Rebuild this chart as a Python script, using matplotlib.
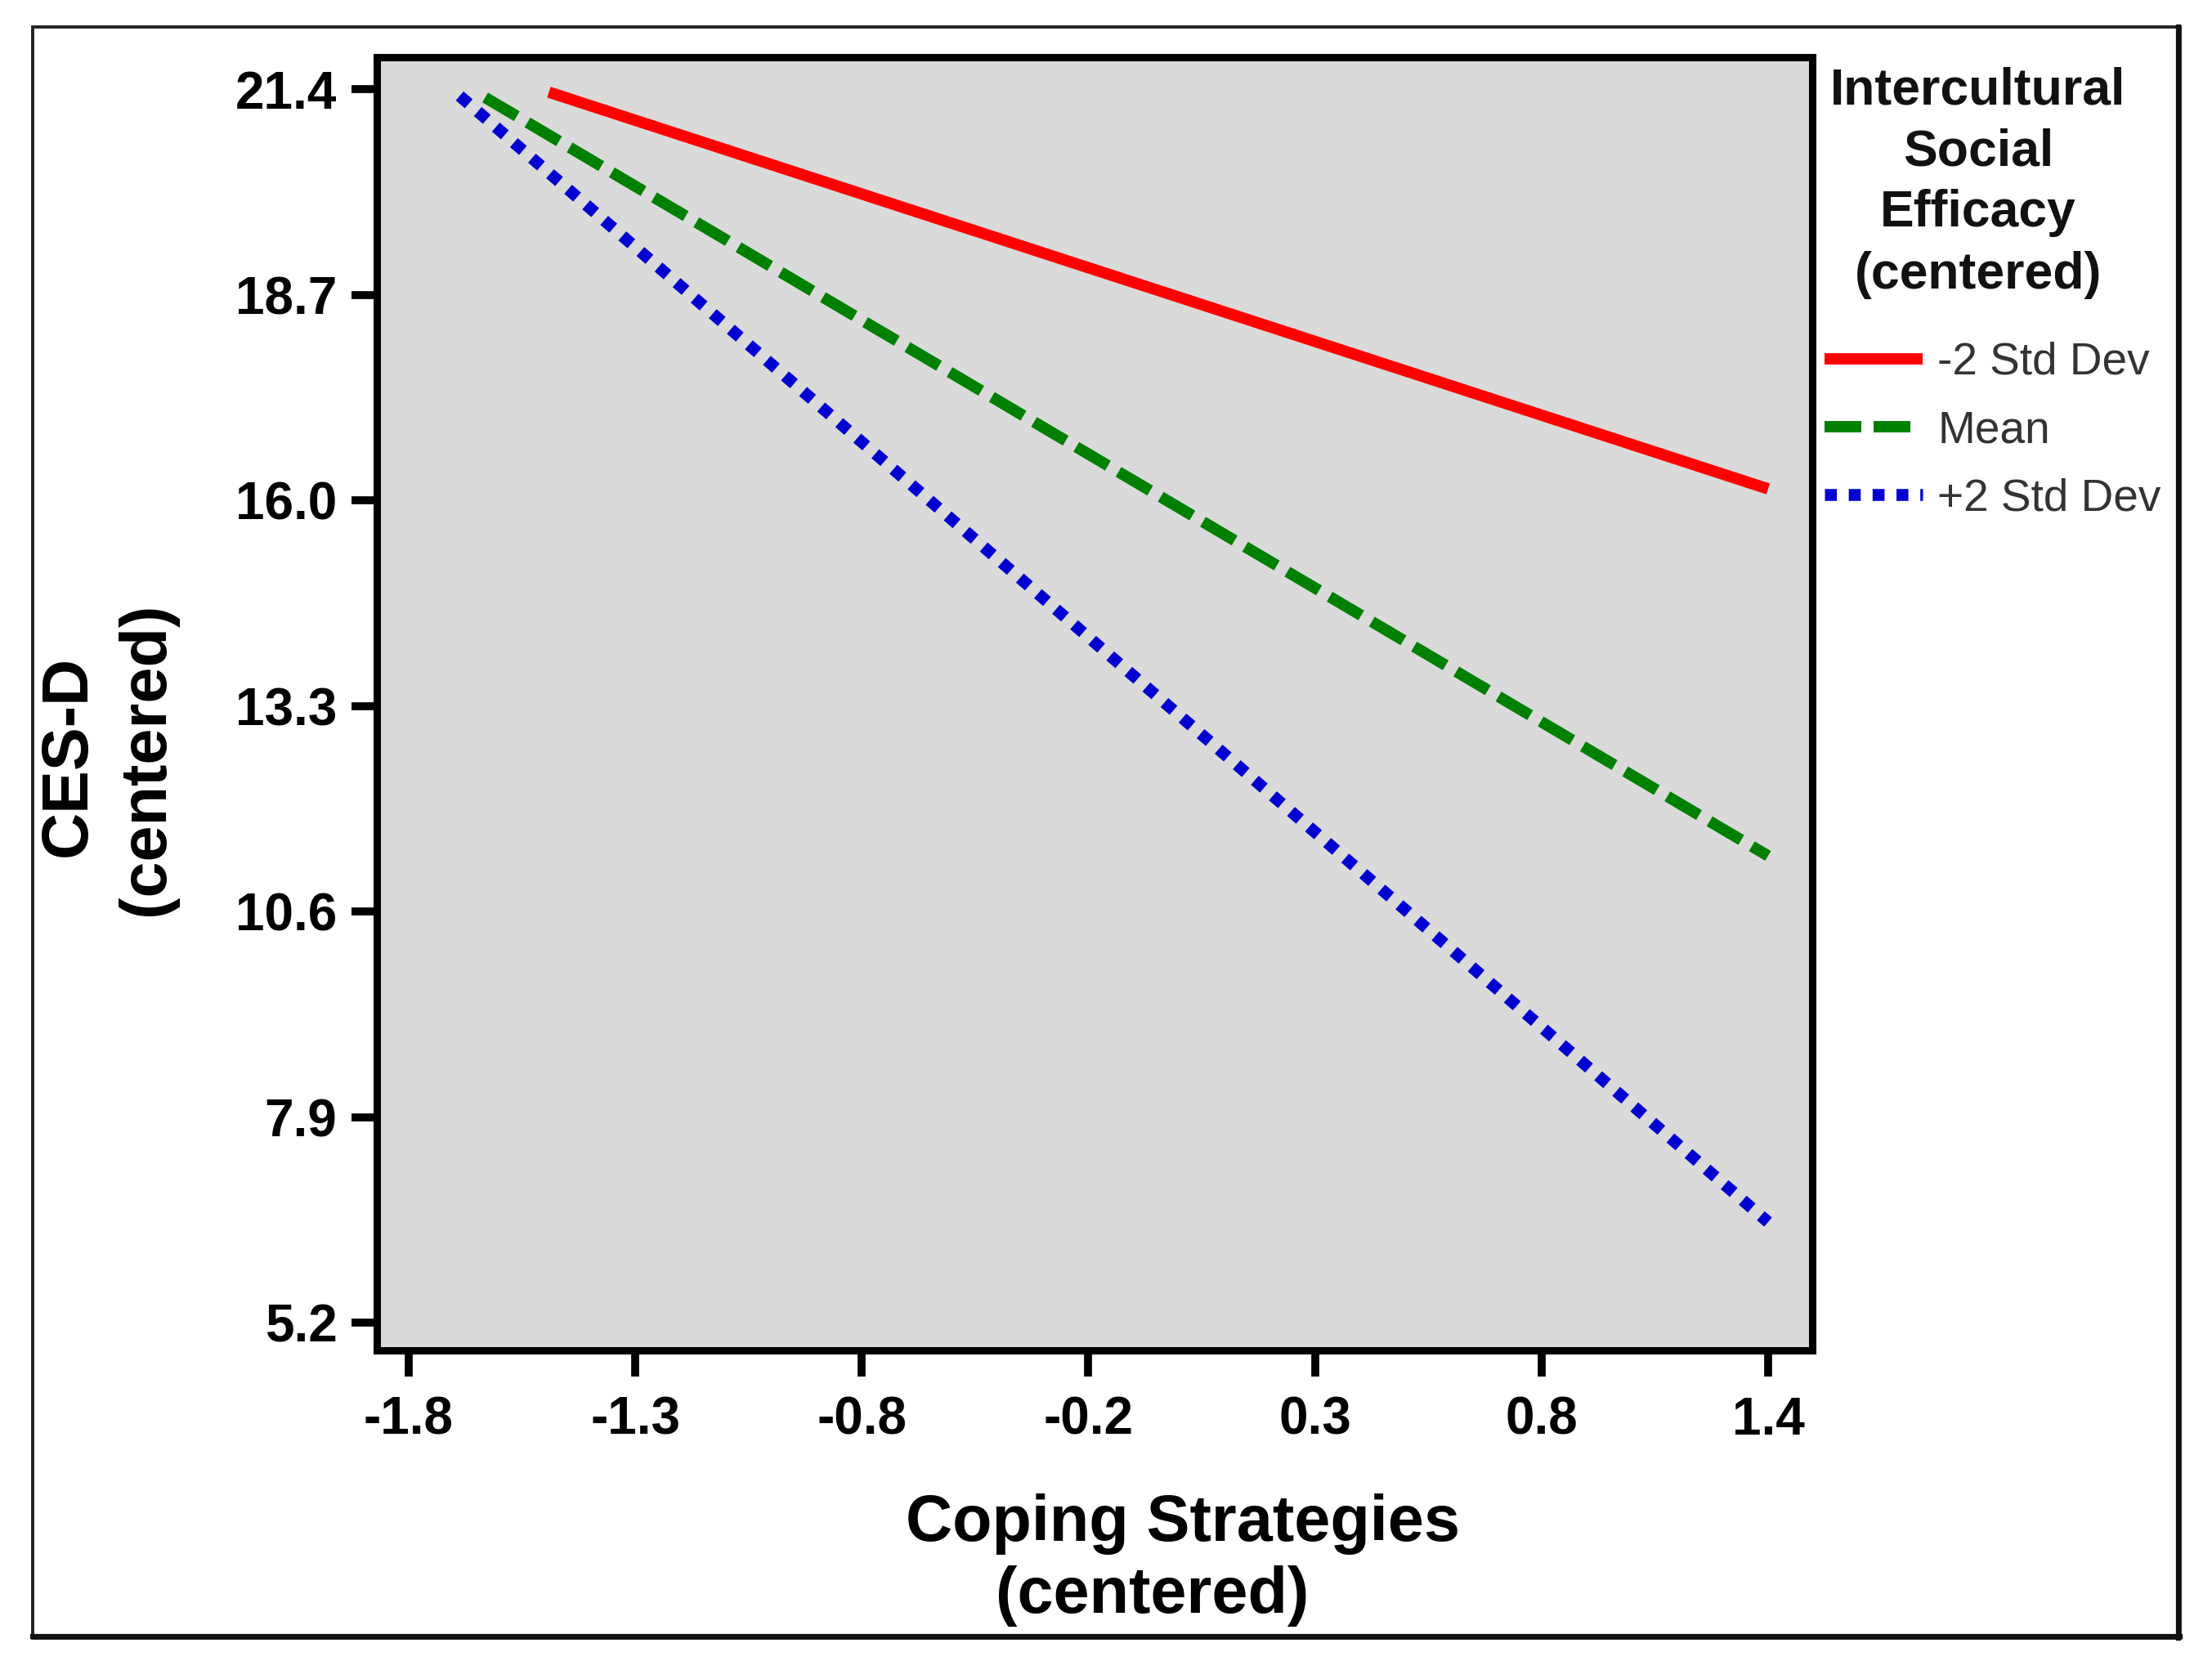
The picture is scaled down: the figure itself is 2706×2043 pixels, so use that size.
import matplotlib
matplotlib.use("Agg")
import matplotlib.pyplot as plt
from matplotlib.patches import Rectangle
from matplotlib.lines import Line2D

# ---- data ----
coping_low_sd = [-1.47, 1.40]
cesd_low_sd = [21.36, 16.15]
coping_mean = [-1.62, 1.40]
cesd_mean = [21.29, 11.33]
coping_high_sd = [-1.68, 1.40]
cesd_high_sd = [21.31, 6.52]

series_labels = ["-2 Std Dev", "Mean", "+2 Std Dev"]
xtick_labels = ["-1.8", "-1.3", "-0.8", "-0.2", "0.3", "0.8", "1.4"]
ytick_labels = ["5.2", "7.9", "10.6", "13.3", "16.0", "18.7", "21.4"]
xtick_pos = [-1.8 + i * (3.2 / 6) for i in range(7)]
ytick_pos = [5.2 + i * 2.7 for i in range(7)]

FONT = "Liberation Sans"
plt.rcParams["font.family"] = [FONT, "DejaVu Sans"]

W, H = 2706, 2043
fig = plt.figure(figsize=(W / 100, H / 100), dpi=100)
fig.patch.set_facecolor("white")

def fx(px):
    return px / W

def fy(py):
    return 1 - py / H

ax = fig.add_axes([fx(461), fy(1652), fx(2217) - fx(461), fy(70) - fy(1652)])
ax.set_facecolor("#dadada")

ax.plot(coping_low_sd, cesd_low_sd, color="#ff0000", lw=10, solid_capstyle="butt",
        label=series_labels[0])
ax.plot(coping_mean, cesd_mean, color="#008000", lw=10, dashes=(3.24, 1.08),
        dash_capstyle="butt", label=series_labels[1])
ax.plot(coping_high_sd, cesd_high_sd, color="#0000d0", lw=10.5, dashes=(1.0, 1.0),
        dash_capstyle="butt", label=series_labels[2])

ax.set_xlim(-1.875, 1.504)
ax.set_ylim(4.835, 21.819)
ax.set_xticks(xtick_pos)
ax.set_xticklabels(xtick_labels)
ax.set_yticks(ytick_pos)
ax.set_yticklabels(ytick_labels)
ax.tick_params(axis="y", length=22, width=7, pad=13, labelsize=46, colors="black")
ax.tick_params(axis="x", length=23, width=7, pad=17, labelsize=46, colors="black")
for lab in ax.get_xticklabels() + ax.get_yticklabels():
    lab.set_fontweight("bold")
for sp in ax.spines.values():
    sp.set_linewidth(6.5)
    sp.set_color("black")

# axis titles
fig.text(fx(1447), fy(1885), "Coping Strategies", ha="center", va="baseline",
         fontsize=57, fontweight="bold")
fig.text(fx(1410), fy(1973), "(centered)", ha="center", va="baseline",
         fontsize=57, fontweight="bold")
fig.text(fx(84), fy(925), "CES-D", ha="center", va="center", rotation=90,
         fontsize=57, fontweight="bold")
fig.text(fx(180), fy(928), "(centered)", ha="center", va="center", rotation=90,
         fontsize=57, fontweight="bold")

# legend title
title_lines = ["Intercultural", "Social", "Efficacy", "(centered)"]
title_y = [111, 186, 261, 337]
for t, yy in zip(title_lines, title_y):
    fig.text(fx(2420), fy(yy), t, ha="center", va="center", fontsize=45,
             fontweight="bold", color="#111111")

leg = ax.legend(loc="upper left", bbox_to_anchor=(fx(2232), fy(418)),
                bbox_transform=fig.transFigure, frameon=False, borderpad=0,
                borderaxespad=0, handlelength=2.18, handletextpad=0.33,
                labelspacing=0.57, fontsize=39.6)
for t in leg.get_texts():
    t.set_color("#333333")

# outer frame
fig.add_artist(Rectangle((fx(40), fy(2004)), fx(2667) - fx(40), fy(33) - fy(2004),
                         transform=fig.transFigure, fill=False, lw=2.8,
                         edgecolor="#222222"))
fig.add_artist(Line2D([fx(40), fx(2667)], [fy(2002), fy(2002)],
                      transform=fig.transFigure, lw=4.5, color="#111111"))
fig.add_artist(Line2D([fx(2665), fx(2665)], [fy(33), fy(2004)],
                      transform=fig.transFigure, lw=4.5, color="#111111"))

fig.savefig("out.png", dpi=100, facecolor="white")
